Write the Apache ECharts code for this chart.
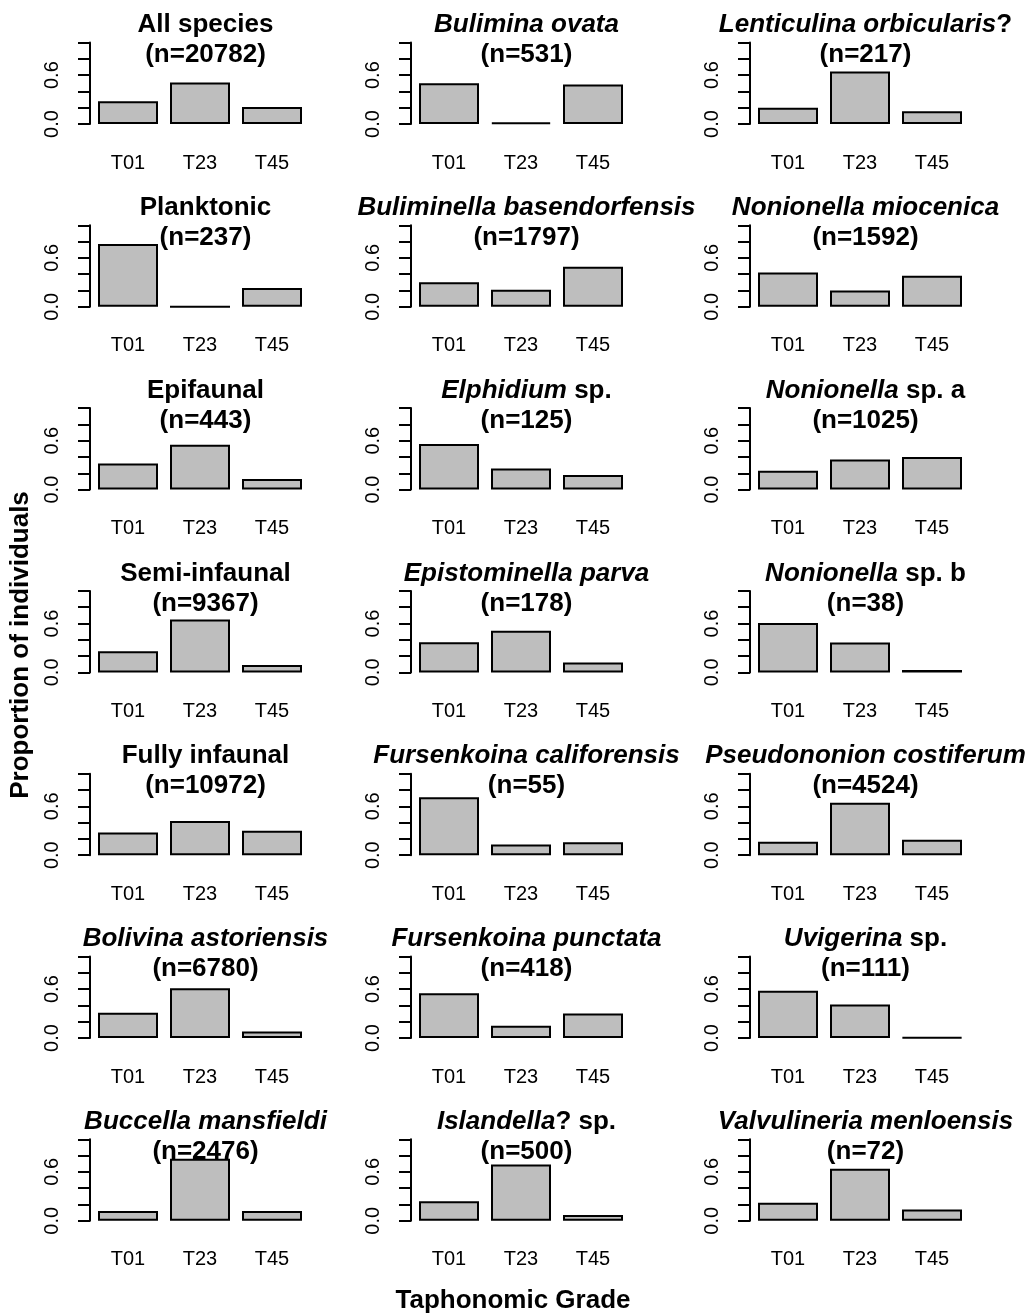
<!DOCTYPE html>
<html>
<head>
<meta charset="utf-8">
<script src="https://cdn.jsdelivr.net/npm/echarts@6/dist/echarts.min.js"></script>
<style>
  html, body { margin: 0; padding: 0; background: #fff; }
  #chart { width: 1026px; height: 1316px; }
</style>
</head>
<body>
<div id="chart"></div>
<script>
// ---- data ----
const grades = ['T01', 'T23', 'T45'];
// title parts: italic part then plain (bold) part
const titleItalic = [
  '', '', '', '', '', 'Bolivina astoriensis', 'Buccella mansfieldi',
  'Bulimina ovata', 'Buliminella basendorfensis', 'Elphidium', 'Epistominella parva', 'Fursenkoina califorensis', 'Fursenkoina punctata', 'Islandella',
  'Lenticulina orbicularis', 'Nonionella miocenica', 'Nonionella', 'Nonionella', 'Pseudononion costiferum', 'Uvigerina', 'Valvulineria menloensis'
];
const titlePlain = [
  'All species', 'Planktonic', 'Epifaunal', 'Semi-infaunal', 'Fully infaunal', '', '',
  '', '', ' sp.', '', '', '', '? sp.',
  '?', '', ' sp. a', ' sp. b', '', ' sp.', ''
];
const sampleN = [
  20782, 237, 443, 9367, 10972, 6780, 2476,
  531, 1797, 125, 178, 55, 418, 500,
  217, 1592, 1025, 38, 4524, 111, 72
];
const valuesT01 = [0.28, 0.77, 0.32, 0.26, 0.28, 0.31, 0.12,  0.50, 0.30, 0.56, 0.37, 0.71, 0.55, 0.24,  0.20, 0.42, 0.23, 0.605, 0.165, 0.58, 0.22];
const valuesT23 = [0.51, 0.00, 0.55, 0.65, 0.42, 0.61, 0.76,  0.02, 0.21, 0.26, 0.51, 0.13, 0.15, 0.69,  0.645, 0.20, 0.37, 0.368, 0.645, 0.41, 0.64];
const valuesT45 = [0.21, 0.23, 0.13, 0.09, 0.30, 0.08, 0.12,  0.485, 0.49, 0.18, 0.12, 0.16, 0.30, 0.07,  0.155, 0.38, 0.40, 0.03, 0.19, 0.009, 0.14];
const yTicks = [0, 0.2, 0.4, 0.6, 0.8, 1.0];
const yTickLabels = ['0.0', '', '', '0.6', '', ''];
const yLabelText = 'Proportion of individuals';
const xLabelText = 'Taphonomic Grade';

// ---- layout ----
const FONT = '"Liberation Sans", Arial, Helvetica, sans-serif';
const colAxisX = [90, 411, 750];
const rowBase0 = 124, rowStep = 182.8, plotH = 81.5;

const grids = [], xAxes = [], yAxes = [], series = [], titles = [];
for (let i = 0; i < 21; i++) {
  const col = Math.floor(i / 7), row = i % 7;
  const base = rowBase0 + row * rowStep;
  const ax = colAxisX[col];
  grids.push({ left: ax + 2, top: base - plotH, width: 216, height: plotH, containLabel: false });
  xAxes.push({
    type: 'category', gridIndex: i, data: grades,
    axisLine: { show: false }, axisTick: { show: false }, splitLine: { show: false },
    axisLabel: { color: '#000', fontFamily: FONT, fontSize: 20, margin: 29 }
  });
  yAxes.push({
    type: 'value', gridIndex: i, min: 0, max: 1, interval: 0.2, offset: 2,
    axisLine: { show: true, lineStyle: { color: '#000', width: 2 } },
    axisTick: { show: true, length: 12, lineStyle: { color: '#000', width: 2 } },
    splitLine: { show: false },
    axisLabel: {
      show: true, rotate: 90, color: '#000', fontFamily: FONT, fontSize: 20, margin: 28,
      formatter: function (v) {
        for (let k = 0; k < yTicks.length; k++) if (Math.abs(v - yTicks[k]) < 1e-9) return yTickLabels[k];
        return '';
      }
    }
  });
  series.push({
    type: 'bar', xAxisIndex: i, yAxisIndex: i,
    data: [valuesT01[i], valuesT23[i], valuesT45[i]],
    barWidth: 60,
    itemStyle: { color: '#bebebe', borderColor: '#000', borderWidth: 2 },
    emphasis: { disabled: true },
    animation: false
  });
  const parts = [];
  if (titleItalic[i]) parts.push('{i|' + titleItalic[i] + '}');
  if (titlePlain[i]) parts.push('{b|' + titlePlain[i] + '}');
  titles.push({
    text: parts.join('') + '\n{b|(n=' + sampleN[i] + ')}',
    left: ax + 110.5, top: base - 119, textAlign: 'center',
    textStyle: {
      fontFamily: FONT, fontSize: 26, fontWeight: 'bold', color: '#000', lineHeight: 30,
      rich: {
        i: { fontFamily: FONT, fontSize: 26, fontWeight: 'bold', fontStyle: 'italic', color: '#000', lineHeight: 30 },
        b: { fontFamily: FONT, fontSize: 26, fontWeight: 'bold', color: '#000', lineHeight: 30 }
      }
    }
  });
}

const chart = echarts.init(document.getElementById('chart'), null, { renderer: 'canvas' });
chart.setOption({
  backgroundColor: '#fff',
  animation: false,
  title: titles,
  grid: grids,
  xAxis: xAxes,
  yAxis: yAxes,
  series: series,
  graphic: [
    { type: 'text', x: 21, y: 645, rotation: Math.PI / 2,
      style: { text: yLabelText, font: 'bold 26px ' + FONT, fill: '#000', align: 'center', verticalAlign: 'middle', textAlign: 'center', textVerticalAlign: 'middle' } },
    { type: 'text', x: 513, y: 1301,
      style: { text: xLabelText, font: 'bold 26px ' + FONT, fill: '#000', align: 'center', verticalAlign: 'middle', textAlign: 'center', textVerticalAlign: 'middle' } }
  ]
});
</script>
</body>
</html>
